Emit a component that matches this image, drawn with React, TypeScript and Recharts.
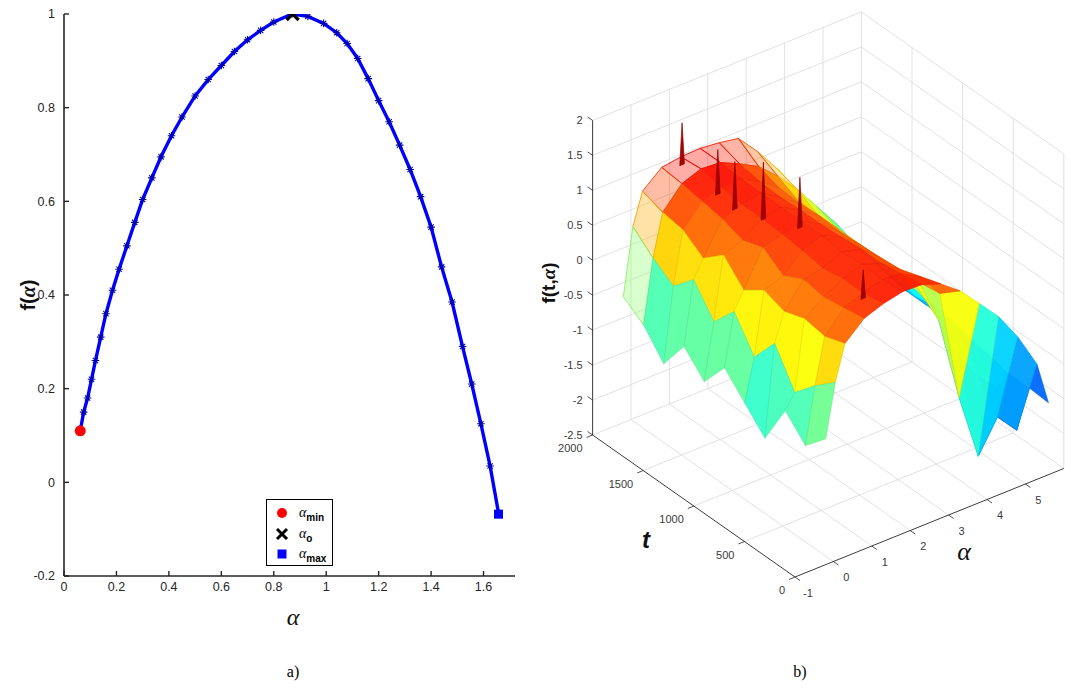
import React from 'react';
import { ComposedChart, Line, Scatter, XAxis, YAxis } from 'recharts';

// ---------- panel a) : f(alpha) ----------
const alphaSamples = [
  0.062, 0.075, 0.09, 0.105, 0.12, 0.14, 0.16, 0.185, 0.21, 0.24, 0.27, 0.3, 0.335, 0.37, 0.41,
  0.45, 0.5, 0.55, 0.6, 0.65, 0.7, 0.75, 0.8, 0.87, 0.93, 0.99, 1.04, 1.08, 1.12, 1.16, 1.2,
  1.24, 1.28, 1.32, 1.36, 1.4, 1.44, 1.48, 1.52, 1.555, 1.59, 1.625, 1.657,
];
const fSamples = [
  0.11, 0.15, 0.18, 0.22, 0.26, 0.31, 0.36, 0.41, 0.455, 0.505, 0.555, 0.604, 0.65, 0.695, 0.74,
  0.78, 0.825, 0.86, 0.89, 0.92, 0.945, 0.965, 0.983, 1.0, 0.995, 0.98, 0.96, 0.937, 0.905, 0.862,
  0.815, 0.77, 0.72, 0.668, 0.61, 0.545, 0.46, 0.385, 0.29, 0.21, 0.125, 0.035, -0.065,
];
const alphaMinPoint = [{ alpha: 0.062, f: 0.11 }];
const alphaOptPoint = [{ alpha: 0.872, f: 1.0 }];
const alphaMaxPoint = [{ alpha: 1.657, f: -0.068 }];
const alphaTicksA = [0, 0.2, 0.4, 0.6, 0.8, 1, 1.2, 1.4, 1.6];
const fTicksA = [-0.2, 0, 0.2, 0.4, 0.6, 0.8, 1];

// ---------- panel b) : f(t, alpha) mesh ----------
const alphaGrid = [-0.2, 0.05, 0.3, 0.8, 1.3, 1.8, 2.3, 2.8, 3.3, 3.8, 4.3, 4.8, 5.3, 5.6];
const tSlices = [2000, 1800, 1600, 1400, 1200, 1000, 800, 600, 400, 200, 0];
const zT2000 = [-0.7, 0.25, 0.7, 0.93, 0.97, 0.98, 0.95, 0.9, 0.6, 0.25, -0.15, -0.5, -0.9, -1.17];
const zT1800 = [-0.9, 0.0, 0.6, 0.9, 1.0, 0.98, 0.85, 0.7, 0.45, 0.15, -0.2, -0.55, -0.95, -1.2];
const zT1600 = [-1.25, -0.2, 0.55, 0.85, 0.95, 0.95, 0.8, 0.6, 0.3, 0.0, -0.3, -0.65, -1.0, -1.25];
const zT1400 = [-0.8, 0.1, 0.35, 0.8, 0.9, 0.95, 0.78, 0.58, 0.3, 0.0, -0.35, -0.7, -1.05, -1.3];
const zT1200 = [-1.1, -0.3, 0.6, 0.7, 0.9, 0.95, 0.8, 0.6, 0.3, -0.05, -0.4, -0.75, -1.1, -1.3];
const zT1000 = [-0.7, 0.05, 0.3, 0.8, 0.88, 0.95, 0.8, 0.58, 0.3, 0.0, -0.35, -0.7, -1.05, -1.3];
const zT800 = [-1.0, -0.4, 0.5, 0.6, 0.85, 0.95, 0.82, 0.6, 0.3, -0.05, -0.4, -0.75, -1.1, -1.32];
const zT600 = [-1.3, 0.0, 0.4, 0.75, 0.8, 0.92, 0.85, 0.62, 0.32, -0.05, -0.5, -0.85, -1.2, -1.38];
const zT400 = [-0.7, -0.5, 0.5, 0.7, 0.85, 0.95, 0.85, 0.65, 0.35, -0.3, -0.9, -1.3, -1.6, -1.45];
const zT200 = [-1.0, -0.2, 0.45, 0.75, 0.85, 0.93, 0.9, 0.75, 0.4, -1.2, -2.15, -1.7, -2.0, -1.45];
const zT0 = [-0.7, 0.05, 0.55, 0.8, 0.9, 0.96, 0.95, 0.85, 0.64, 0.35, 0.05, -0.35, -0.85, -1.47];
const surfaceRows = [zT2000, zT1800, zT1600, zT1400, zT1200, zT1000, zT800, zT600, zT400, zT200, zT0];

const redSpikes = [
  { t: 2000, a: 1.33, base: 0.85, tip: 1.45 },
  { t: 1700, a: 1.47, base: 0.7, tip: 1.34 },
  { t: 1600, a: 1.65, base: 0.55, tip: 1.23 },
  { t: 1500, a: 2.13, base: 0.4, tip: 1.22 },
  { t: 1200, a: 2.29, base: 0.55, tip: 1.27 },
  { t: 400, a: 1.83, base: 0.45, tip: 0.86 },
];

const zTicks = [-2.5, -2, -1.5, -1, -0.5, 0, 0.5, 1, 1.5, 2];
const tTicks = [0, 500, 1000, 1500, 2000];
const alphaTicksB = [-1, 0, 1, 2, 3, 4, 5];
const T_LIM = [0, 2000];
const A_LIM = [-1, 6];
const Z_LIM = [-2.5, 2];
const COLOR_LIM = [-2.3, 1.5];

// camera: page position of (t=0, alpha=-1, z=-2.5) and screen step per unit of each axis
const VIEW = { ox: 795, oy: 577, ax: 38.4, ay: -15.5, tx: -0.1012, ty: -0.071, zy: -69.9 };

const proj = (t: number, a: number, z: number) => ({
  x: VIEW.ox + (a - A_LIM[0]) * VIEW.ax + t * VIEW.tx,
  y: VIEW.oy + (a - A_LIM[0]) * VIEW.ay + t * VIEW.ty + (z - Z_LIM[0]) * VIEW.zy,
});

const jetRgb = (z: number) => {
  const v = Math.max(0, Math.min(1, (z - COLOR_LIM[0]) / (COLOR_LIM[1] - COLOR_LIM[0])));
  const c = (k: number) => Math.max(0, Math.min(1, 1.5 - Math.abs(4 * v - k)));
  return [c(3), c(2), c(1)];
};
const rgb = (c: number[], k = 1) =>
  `rgb(${Math.round(c[0] * 255 * k)},${Math.round(c[1] * 255 * k)},${Math.round(c[2] * 255 * k)})`;

const noShape = () => <g />;

const font = 'Liberation Sans, Arial, Helvetica, sans-serif';
const serif = 'Liberation Serif, Times New Roman, serif';
const axisInk = '#262626';
const gridInk = '#dedede';

const StarDot = (props: any) => {
  const { cx, cy, index } = props;
  if (cx == null || cy == null) return <g key={index} />;
  const r = 3.8;
  const d = r * 0.7;
  return (
    <path
      key={index}
      d={`M${cx - r},${cy}H${cx + r}M${cx},${cy - r}V${cy + r}M${cx - d},${cy - d}L${cx + d},${cy + d}M${cx - d},${cy + d}L${cx + d},${cy - d}`}
      stroke="#0000b4"
      strokeWidth={1.1}
    />
  );
};

const RedDot = (p: any) => <circle cx={p.cx} cy={p.cy} r={5.5} fill="#ff0000" />;
const BlackCross = (p: any) => (
  <path
    d={`M${p.cx - 6},${p.cy - 6}L${p.cx + 6},${p.cy + 6}M${p.cx + 6},${p.cy - 6}L${p.cx - 6},${p.cy + 6}`}
    stroke="#000"
    strokeWidth={3.2}
  />
);
const BlueSquare = (p: any) => <rect x={p.cx - 4.5} y={p.cy - 4.5} width={9} height={9} fill="#0000ff" />;

const tickText = { fontFamily: font, fontSize: 11, fill: '#3a3a3a' };

const ZTickLabel = (p: any) => (
  <g>
    <line x1={p.cx} y1={p.cy} x2={p.cx - 5} y2={p.cy - 3.5} stroke={axisInk} strokeWidth={0.8} />
    <text x={p.cx - 10} y={p.cy} textAnchor="end" dominantBaseline="central" style={tickText}>
      {p.payload.txt}
    </text>
  </g>
);
const TTickLabel = (p: any) => (
  <g>
    <line x1={p.cx} y1={p.cy} x2={p.cx - 6} y2={p.cy + 2.5} stroke={axisInk} strokeWidth={0.8} />
    <text x={p.cx - 10} y={p.cy + 13} textAnchor="end" dominantBaseline="central" style={tickText}>
      {p.payload.txt}
    </text>
  </g>
);
const ATickLabel = (p: any) => (
  <g>
    <line x1={p.cx} y1={p.cy} x2={p.cx + 5} y2={p.cy + 3.5} stroke={axisInk} strokeWidth={0.8} />
    <text x={p.cx + 13} y={p.cy + 15.5} textAnchor="middle" dominantBaseline="central" style={tickText}>
      {p.payload.txt}
    </text>
  </g>
);

type Seg = { key: string; pts: { x: number; y: number }[]; stroke: string; width: number; fill?: string; fillOpacity?: number };

const buildGrid = (): Seg[] => {
  const segs: Seg[] = [];
  const [t0, t1] = T_LIM;
  const [a0, a1] = A_LIM;
  const [z0, z1] = Z_LIM;
  const gridAlphas = alphaTicksB.filter((a) => a > a0).concat([a1]);
  gridAlphas.forEach((a) => segs.push({ key: `bw-a${a}`, pts: [proj(t1, a, z0), proj(t1, a, z1)], stroke: gridInk, width: 0.9 }));
  zTicks.forEach((z) => {
    segs.push({ key: `bw-z${z}`, pts: [proj(t1, a0, z), proj(t1, a1, z)], stroke: gridInk, width: 0.9 });
    segs.push({ key: `rw-z${z}`, pts: [proj(t1, a1, z), proj(t0, a1, z)], stroke: gridInk, width: 0.9 });
  });
  tTicks.filter((t) => t < t1).forEach((t) =>
    segs.push({ key: `rw-t${t}`, pts: [proj(t, a1, z0), proj(t, a1, z1)], stroke: gridInk, width: 0.9 }),
  );
  alphaTicksB.filter((a) => a > a0).forEach((a) =>
    segs.push({ key: `fl-a${a}`, pts: [proj(t0, a, z0), proj(t1, a, z0)], stroke: gridInk, width: 0.9 }),
  );
  tTicks.filter((t) => t > t0 && t < t1).forEach((t) =>
    segs.push({ key: `fl-t${t}`, pts: [proj(t, a0, z0), proj(t, a1, z0)], stroke: gridInk, width: 0.9 }),
  );
  // axis lines
  segs.push({ key: 'ax-z', pts: [proj(t1, a0, z0), proj(t1, a0, z1)], stroke: axisInk, width: 0.9 });
  segs.push({ key: 'ax-t', pts: [proj(t0, a0, z0), proj(t1, a0, z0)], stroke: axisInk, width: 0.9 });
  segs.push({ key: 'ax-a', pts: [proj(t0, a0, z0), proj(t0, a1, z0)], stroke: axisInk, width: 0.9 });
  return segs;
};

const buildSurface = (): Seg[] => {
  const cells: (Seg & { depth: number })[] = [];
  for (let i = 0; i < tSlices.length - 1; i++) {
    for (let j = 0; j < alphaGrid.length - 1; j++) {
      const c = [
        [tSlices[i], alphaGrid[j], surfaceRows[i][j]],
        [tSlices[i], alphaGrid[j + 1], surfaceRows[i][j + 1]],
        [tSlices[i + 1], alphaGrid[j + 1], surfaceRows[i + 1][j + 1]],
        [tSlices[i + 1], alphaGrid[j], surfaceRows[i + 1][j]],
      ];
      const zAvg = c.reduce((s, p) => s + p[2], 0) / 4;
      const tMid = (tSlices[i] + tSlices[i + 1]) / 2;
      const aMid = (alphaGrid[j] + alphaGrid[j + 1]) / 2;
      const depth = 142 * (tMid / T_LIM[1]) + 108.5 * ((aMid - A_LIM[0]) / (A_LIM[1] - A_LIM[0]));
      const col = jetRgb(zAvg);
      const pts = c.map((p) => proj(p[0], p[1], p[2]));
      const back = i === 0;
      cells.push({
        key: `q-${i}-${j}`,
        pts: [...pts, pts[0]],
        stroke: back ? rgb(col, 0.95) : rgb(col, 0.9),
        width: back ? 0.9 : 0.6,
        fill: rgb(col),
        fillOpacity: back ? 0.35 : 0.95,
        depth,
      });
    }
  }
  cells.sort((p, q) => q.depth - p.depth);
  return cells;
};

const buildSpikes = (): Seg[] =>
  redSpikes.map((s, k) => {
    const pts = [proj(s.t, s.a - 0.06, s.base), proj(s.t, s.a, s.tip), proj(s.t, s.a + 0.06, s.base)];
    return { key: `spike-${k}`, pts: [...pts, pts[0]], stroke: '#8c0000', width: 0.7, fill: '#a80000', fillOpacity: 1 };
  });

const gridSegs = buildGrid();
const surfaceSegs = buildSurface();
const spikeSegs = buildSpikes();

const zLabelData = zTicks.map((z) => ({ ...proj(T_LIM[1], A_LIM[0], z), txt: String(z) }));
const tLabelData = tTicks.map((t) => ({ ...proj(t, A_LIM[0], Z_LIM[0]), txt: String(t) }));
const aLabelData = alphaTicksB.map((a) => ({ ...proj(T_LIM[0], a, Z_LIM[0]), txt: String(a) }));

const renderSeg = (s: Seg) => (
  <Scatter
    key={s.key}
    data={s.pts}
    shape={noShape}
    line={{ stroke: s.stroke, strokeWidth: s.width, fill: s.fill ?? 'none', fillOpacity: s.fillOpacity ?? 1 }}
    lineType="joint"
    isAnimationActive={false}
  />
);

const curveA = alphaSamples.map((alpha, i) => ({ alpha, f: fSamples[i] }));

const LegendRow = ({ top, marker, sub }: { top: number; marker: React.ReactNode; sub: string }) => (
  <div style={{ position: 'absolute', left: 0, top, height: 18, width: 67, display: 'flex', alignItems: 'center' }}>
    <svg width={32} height={18} style={{ flex: 'none' }}>
      {marker}
    </svg>
    <span style={{ fontFamily: serif, fontStyle: 'italic', fontSize: 14, lineHeight: '14px' }}>α</span>
    <span style={{ fontFamily: font, fontWeight: 'bold', fontSize: 10, position: 'relative', top: 4 }}>{sub}</span>
  </div>
);

export default function App() {
  return (
    <div style={{ position: 'absolute', left: 0, top: 0, width: 1075, height: 690, background: '#fff', overflow: 'hidden' }}>
      {/* a) */}
      <div style={{ position: 'absolute', left: 0, top: 0 }}>
        <ComposedChart width={540} height={620} data={curveA} margin={{ top: 14, right: 25, bottom: 14, left: 4 }}>
          <XAxis
            type="number"
            dataKey="alpha"
            domain={[0, 1.72]}
            ticks={alphaTicksA}
            interval={0}
            allowDataOverflow
            height={30}
            axisLine={{ stroke: axisInk, strokeWidth: 1.6 }}
            tickLine={{ stroke: axisInk, strokeWidth: 1.4 }}
            tickSize={-5}
            tickMargin={11}
            tick={{ fill: axisInk, fontSize: 12.5, fontFamily: font }}
          />
          <YAxis
            type="number"
            dataKey="f"
            domain={[-0.2, 1]}
            ticks={fTicksA}
            interval={0}
            allowDataOverflow
            width={60}
            axisLine={{ stroke: axisInk, strokeWidth: 1.6 }}
            tickLine={{ stroke: axisInk, strokeWidth: 1.4 }}
            tickSize={-5}
            tickMargin={14}
            tick={{ fill: axisInk, fontSize: 12.5, fontFamily: font }}
          />
          <Line dataKey="f" stroke="#0000ff" strokeWidth={3.4} dot={StarDot} isAnimationActive={false} />
          <Scatter data={alphaMinPoint} dataKey="f" shape={RedDot} isAnimationActive={false} />
          <Scatter data={alphaOptPoint} dataKey="f" shape={BlackCross} isAnimationActive={false} />
          <Scatter data={alphaMaxPoint} dataKey="f" shape={BlueSquare} isAnimationActive={false} />
        </ComposedChart>
        <div
          style={{
            position: 'absolute', left: 266, top: 499, width: 67, height: 67,
            border: '1.4px solid #000', background: '#fff', boxSizing: 'border-box',
          }}
        >
          <LegendRow top={4} sub="min" marker={<circle cx={15} cy={9} r={5} fill="#ff0000" />} />
          <LegendRow
            top={25}
            sub="o"
            marker={<path d="M10,4L20,14M20,4L10,14" stroke="#000" strokeWidth={3} />}
          />
          <LegendRow top={45} sub="max" marker={<rect x={10.5} y={4.5} width={9} height={9} fill="#0000ff" />} />
        </div>
        <div
          style={{
            position: 'absolute', left: 28, top: 295, transform: 'translate(-50%,-50%) rotate(-90deg)',
            fontFamily: font, fontWeight: 'bold', fontSize: 20, whiteSpace: 'nowrap', color: '#111',
          }}
        >
          f(<span style={{ fontFamily: serif, fontStyle: 'italic' }}>α</span>)
        </div>
        <div
          style={{
            position: 'absolute', left: 293, top: 617, transform: 'translate(-50%,-50%)',
            fontFamily: serif, fontStyle: 'italic', fontSize: 24, color: '#111',
          }}
        >
          α
        </div>
      </div>

      {/* b) */}
      <div style={{ position: 'absolute', left: 535, top: 0 }}>
        <ComposedChart width={540} height={620} margin={{ top: 0, right: 0, bottom: 0, left: 0 }}>
          <XAxis type="number" dataKey="x" domain={[535, 1075]} allowDataOverflow hide />
          <YAxis type="number" dataKey="y" domain={[0, 620]} reversed allowDataOverflow hide />
          {gridSegs.map(renderSeg)}
          {surfaceSegs.map(renderSeg)}
          {spikeSegs.map(renderSeg)}
          <Scatter data={zLabelData} shape={ZTickLabel} isAnimationActive={false} />
          <Scatter data={tLabelData} shape={TTickLabel} isAnimationActive={false} />
          <Scatter data={aLabelData} shape={ATickLabel} isAnimationActive={false} />
        </ComposedChart>
      </div>
      <div
        style={{
          position: 'absolute', left: 549, top: 283, transform: 'translate(-50%,-50%) rotate(-90deg)',
          fontFamily: font, fontWeight: 'bold', fontSize: 19, whiteSpace: 'nowrap', color: '#111',
        }}
      >
        f(t,<span style={{ fontFamily: serif, fontStyle: 'italic' }}>α</span>)
      </div>
      <div
        style={{
          position: 'absolute', left: 646, top: 540, transform: 'translate(-50%,-50%)',
          fontFamily: font, fontWeight: 'bold', fontStyle: 'italic', fontSize: 24, color: '#111',
        }}
      >
        t
      </div>
      <div
        style={{
          position: 'absolute', left: 964, top: 552, transform: 'translate(-50%,-50%)',
          fontFamily: serif, fontStyle: 'italic', fontSize: 26, color: '#111',
        }}
      >
        α
      </div>

      <div style={{ position: 'absolute', left: 293, top: 672, transform: 'translate(-50%,-50%)', fontFamily: serif, fontSize: 16 }}>
        a)
      </div>
      <div style={{ position: 'absolute', left: 800, top: 672, transform: 'translate(-50%,-50%)', fontFamily: serif, fontSize: 16 }}>
        b)
      </div>
    </div>
  );
}
